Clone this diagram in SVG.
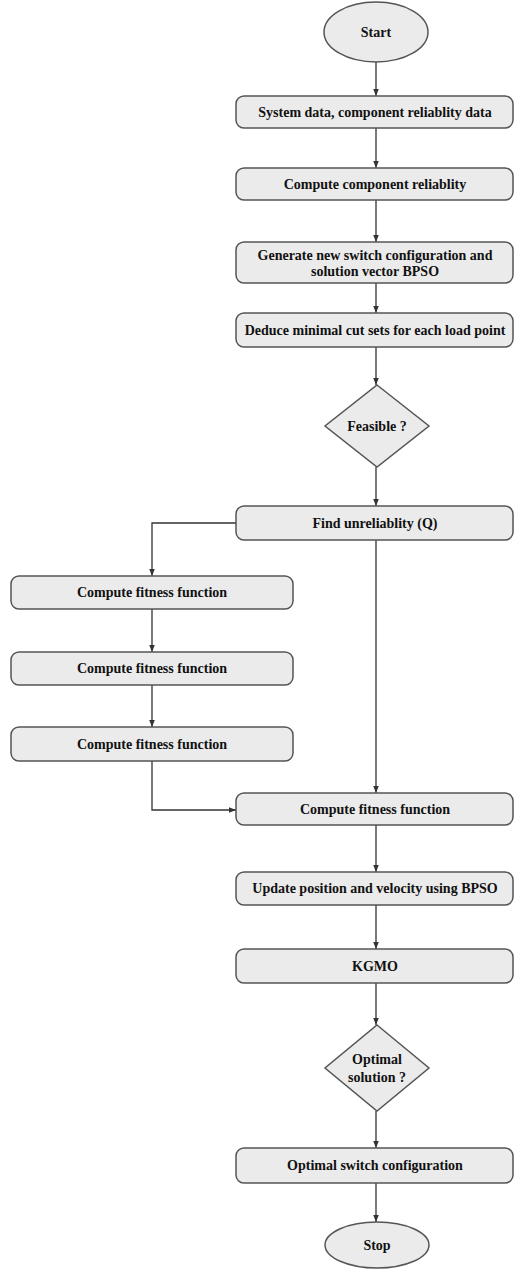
<svg xmlns="http://www.w3.org/2000/svg" width="515" height="1270" viewBox="0 0 515 1270">
<style>
.n{fill:#ebebeb;stroke:#555;stroke-width:1.5}
.t{font-family:"Liberation Serif","Times New Roman",serif;font-weight:bold;font-size:14px;fill:#111;text-anchor:middle;dominant-baseline:central}
.c{fill:none;stroke:#333;stroke-width:1.3;marker-end:url(#a)}
</style>
<defs>
<marker id="a" viewBox="0 0 10 10" refX="10" refY="5" markerWidth="7" markerHeight="7" markerUnits="userSpaceOnUse" orient="auto">
<path d="M0,1 L10,5 L0,9 z" fill="#333"/>
</marker>
</defs>
<rect width="515" height="1270" fill="#fff"/>
<g id="connectors">
<path class="c" d="M376,62 V96"/>
<path class="c" d="M376,128 V168"/>
<path class="c" d="M376,200 V242"/>
<path class="c" d="M376,283 V313"/>
<path class="c" d="M376,347 V385"/>
<path class="c" d="M376,467 V506"/>
<path class="c" d="M236,523 H152 V576"/>
<path class="c" d="M152,609 V652"/>
<path class="c" d="M152,685 V727"/>
<path class="c" d="M152,761 V810 H236"/>
<path class="c" d="M376,540 V793"/>
<path class="c" d="M376,825 V872"/>
<path class="c" d="M376,905 V949"/>
<path class="c" d="M376,983 V1025"/>
<path class="c" d="M376,1111 V1148"/>
<path class="c" d="M376,1183 V1222"/>
</g>
<g id="start"><ellipse class="n" cx="376" cy="32" rx="52" ry="30"/><text class="t" x="376" y="32">Start</text></g>
<g id="sysdata"><rect class="n" x="236" y="96" width="277" height="32" rx="8"/><text class="t" x="375" y="112">System data, component reliablity data</text></g>
<g id="compRel"><rect class="n" x="236" y="168" width="277" height="32" rx="8"/><text class="t" x="375" y="184">Compute component reliablity</text></g>
<g id="generate"><rect class="n" x="236" y="242" width="277" height="41" rx="8"/><text class="t" x="375" y="255">Generate new switch configuration and</text><text class="t" x="375" y="271">solution vector BPSO</text></g>
<g id="deduce"><rect class="n" x="236" y="313" width="277" height="34" rx="8"/><text class="t" x="375" y="330">Deduce minimal cut sets for each load point</text></g>
<g id="feasible"><polygon class="n" points="377,385 429,426 377,467 325,426"/><text class="t" x="377" y="426">Feasible ?</text></g>
<g id="findQ"><rect class="n" x="236" y="506" width="277" height="34" rx="8"/><text class="t" x="375" y="523">Find unreliablity (Q)</text></g>
<g id="fit1"><rect class="n" x="11" y="576" width="282" height="33" rx="8"/><text class="t" x="152" y="592">Compute fitness function</text></g>
<g id="fit2"><rect class="n" x="11" y="652" width="282" height="33" rx="8"/><text class="t" x="152" y="668">Compute fitness function</text></g>
<g id="fit3"><rect class="n" x="11" y="727" width="282" height="34" rx="8"/><text class="t" x="152" y="744">Compute fitness function</text></g>
<g id="fit4"><rect class="n" x="236" y="793" width="277" height="32" rx="8"/><text class="t" x="375" y="809">Compute fitness function</text></g>
<g id="update"><rect class="n" x="236" y="872" width="277" height="33" rx="8"/><text class="t" x="375" y="888">Update position and velocity using BPSO</text></g>
<g id="kgmo"><rect class="n" x="236" y="949" width="277" height="34" rx="8"/><text class="t" x="375" y="966">KGMO</text></g>
<g id="optimal"><polygon class="n" points="377,1025 429,1068 377,1111 325,1068"/><text class="t" x="377" y="1059">Optimal</text><text class="t" x="377" y="1077">solution ?</text></g>
<g id="optConfig"><rect class="n" x="236" y="1148" width="277" height="35" rx="8"/><text class="t" x="375" y="1165">Optimal switch configuration</text></g>
<g id="stop"><ellipse class="n" cx="377" cy="1245" rx="52" ry="23"/><text class="t" x="377" y="1245">Stop</text></g>
</svg>
